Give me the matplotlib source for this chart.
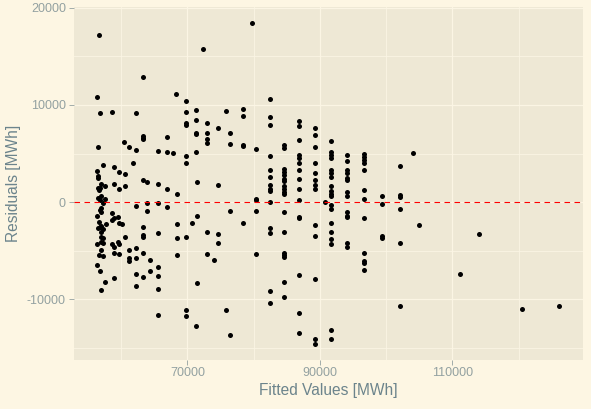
"""Residuals vs fitted values, solarized-style scatter."""
import matplotlib
matplotlib.use("Agg")
import matplotlib.pyplot as plt
from matplotlib.ticker import FixedLocator

plt.rcParams["font.family"] = ["Liberation Sans", "DejaVu Sans"]

BG = "#fdf6e3"
PANEL = "#eee8d5"
GRID = "#fbf5e4"
TICK_TXT = "#93a1a1"
TITLE_TXT = "#6c848c"

# fitted values [MWh] and residuals [MWh]
fitted_left = [
    56720, 56400, 56870, 58680, 62300, 60490, 61250, 56570, 62300, 61850,
    57320, 58980, 56400, 56500, 56570, 59610, 60520, 56900, 56450, 56870,
    56670, 57620, 58940, 59650, 60520, 56900, 56450, 56780, 57620, 57280,
    56930, 56780, 57020, 62300, 58630, 58940, 58630, 59540, 56400, 56630,
    59650, 60140, 56780, 57280, 57020, 57770, 56500, 57020, 60550, 57020,
    57280, 57020, 57280, 56400, 58630, 58940, 59540, 59650, 57020, 56630,
    57280, 58940, 59650, 61250, 62300, 61250, 61250, 62300, 56400, 56780,
    58940, 57620, 62300, 62300, 56930,
]
resid_left = [
    17170, 10790, 9150, 9250, 9150, 6160, 5650, 5650, 5340, 4000,
    3800, 3590, 3210, 2640, 2440, 3060, 2870, 1820, 1430, 1410,
    1260, 1670, 1840, 1330, 1640, 610, 400, 230, 300, -110,
    -630, -800, -980, -390, -1140, -1660, -1830, -1490, -1470, -2010,
    -2170, -2270, -2580, -2790, -2450, -2240, -2690, -3040, -3610, -3550,
    -3710, -4060, -4170, -4300, -4300, -4640, -4060, -4300, -4920, -5430,
    -5540, -5260, -5360, -4920, -4740, -5770, -6020, -5770, -6460, -7080,
    -7830, -8240, -7420, -8620, -9030,
]

fitted_mid = [
    72420, 63360, 68340, 69850, 69850, 71360, 75890, 78410, 78410, 71360,
    69850, 69850, 73020, 74680, 71360, 71360, 73020, 76490, 63360, 63360,
    63360, 66940, 73020, 73020, 76490, 78410, 78410, 65580, 66940, 67890,
    71360, 69850, 69850, 63360, 63960, 65620, 71420, 74680, 66980, 68400,
    63960, 65620, 66980, 63960, 71420, 70750, 68400, 76490, 78410, 63360,
    65620, 63360, 63360, 69850, 68400, 73020, 74680, 74680, 63360, 68400,
    64420, 73020, 74080, 65620, 64420, 65620, 63360, 65620, 71420, 69850,
    69850, 65620, 71360, 75890, 76490,
]
resid_mid = [
    15730, 12850, 11100, 10380, 9250, 9460, 9350, 9560, 8840, 8430,
    8100, 7910, 8120, 7600, 7090, 6990, 7090, 7090, 6780, 6640,
    6470, 6680, 6470, 6060, 5960, 5860, 5750, 5240, 5130, 5030,
    5130, 4720, 4000, 2250, 2050, 1840, 2050, 1740, 1330, 810,
    -110, -110, -520, -940, -1450, -2170, -2270, -940, -2170, -2580,
    -3200, -3410, -3610, -3610, -3710, -3100, -3300, -4230, -5260, -5460,
    -5980, -5360, -5980, -6700, -7110, -7620, -7730, -8960, -8350, -11120,
    -11740, -11640, -12770, -11120, -13700,
]

fitted_right = [
    79810, 80410, 80410, 80410, 80410, 80410,
    82530, 82530, 82530, 82530, 82530, 82530, 82530, 82530, 82530, 82530,
    82530, 82530, 82530, 82530,
    84640, 84640, 84640, 84640, 84640, 84640, 84640, 84640, 84640, 84640,
    84640, 84640, 84640, 84640, 84640, 84640, 84640, 84640,
    86910, 86910, 86910, 86910, 86910, 86910, 86910, 86910, 86910, 86910,
    86910, 86910, 86910, 86910, 86910,
    89320, 89320, 89320, 89320, 89320, 89320, 89320, 89320, 89320, 89320,
    89320, 89320, 89320,
    90830,
    91740, 91740, 91740, 91740, 91740, 91740, 91740, 91740, 91740, 91740,
    91740, 91740, 91740, 91740, 91740, 91740, 91740, 91740, 91740,
    94150, 94150, 94150, 94150, 94150, 94150, 94150, 94150, 94150, 94150,
    94150, 94150, 94150,
    96720, 96720, 96720, 96720, 96720, 96720, 96720, 96720, 96720, 96720,
    96720, 96720,
    99430, 99430, 99430, 99430,
    102150, 102150, 102150, 102150, 102150, 102150,
    104110, 105020, 111060, 114070, 120560, 126150,
]
resid_right = [
    18410, 5440, 300, 200, -940, -5360,
    10590, 8740, 7910, 4720, 3280, 2560, 1740, 1330, 1120, -10,
    -2690, -3200, -9170, -10400,
    5860, 5550, 3390, 3080, 2770, 2360, 2150, 1640, 1330, 1020,
    840, -1040, -3100, -5260, -5460, -5610, -8240, -9790,
    8320, 7810, 6370, 4830, 4520, 4000, 3280, 2360, 1330, 175,
    -1550, -1660, -7520, -11430, -13490,
    7600, 6910, 5650, 4000, 2970, 2250, 1740, 1330, -2380, -3510,
    -7930, -14110, -14620,
    -10,
    6270, 5130, 4830, 4520, 3280, 2970, 2560, 1640, 1100, 810,
    610, -320, -730, -2170, -3100, -3820, -4330, -13180, -14110,
    4830, 4210, 3280, 2970, 2460, 2250, 1020, 610, -1040, -1450,
    -1550, -4230, -4640,
    4930, 4620, 4310, 4000, 3280, 1220, 300, -1660, -5260, -6080,
    -6290, -7010,
    610, -220, -3510, -3710,
    3690, 710, 500, -730, -4230, -10710,
    5030, -2380, -7420, -3300, -11020, -10710,
]

x_major = [70000, 90000, 110000]
x_minor = [60000, 80000, 100000, 120000]
y_major = [-10000, 0, 10000, 20000]
y_minor = [-15000, -5000, 5000, 15000]

fitted = fitted_left + fitted_mid + fitted_right
resid = resid_left + resid_mid + resid_right

fig = plt.figure(figsize=(5.91, 4.09), dpi=100, facecolor=BG)
ax = fig.add_axes([0.1245, 0.1208, 0.862, 0.8626])
ax.set_facecolor(PANEL)
for s in ax.spines.values():
    s.set_visible(False)

ax.xaxis.set_major_locator(FixedLocator(x_major))
ax.xaxis.set_minor_locator(FixedLocator(x_minor))
ax.yaxis.set_major_locator(FixedLocator(y_major))
ax.yaxis.set_minor_locator(FixedLocator(y_minor))
ax.grid(True, which="major", color=GRID, lw=0.9, zorder=0)
ax.grid(True, which="minor", color=GRID, lw=0.6, zorder=0)
ax.set_axisbelow(True)

ax.plot(fitted, resid, "o", color="black", ms=3.6, mew=0, zorder=3)
ax.axhline(0, color="#ff0000", lw=0.8, ls=(0, (5, 4)), zorder=4)

ax.set_xlim(52820, 129700)
ax.set_ylim(-16200, 20100)

ax.tick_params(which="major", length=3.5, width=0.6, color=TICK_TXT,
               labelcolor=TICK_TXT, labelsize=9, pad=2)
ax.tick_params(which="minor", length=0)
ax.set_xticklabels([str(v) for v in x_major])
ax.set_yticklabels([str(v) for v in y_major])

ax.set_xlabel("Fitted Values [MWh]", fontsize=11.2, color=TITLE_TXT,
              labelpad=3)
ax.set_ylabel("Residuals [MWh]", fontsize=11.2, color=TITLE_TXT,
              labelpad=4)

fig.savefig("out.png", dpi=100, facecolor=BG)
